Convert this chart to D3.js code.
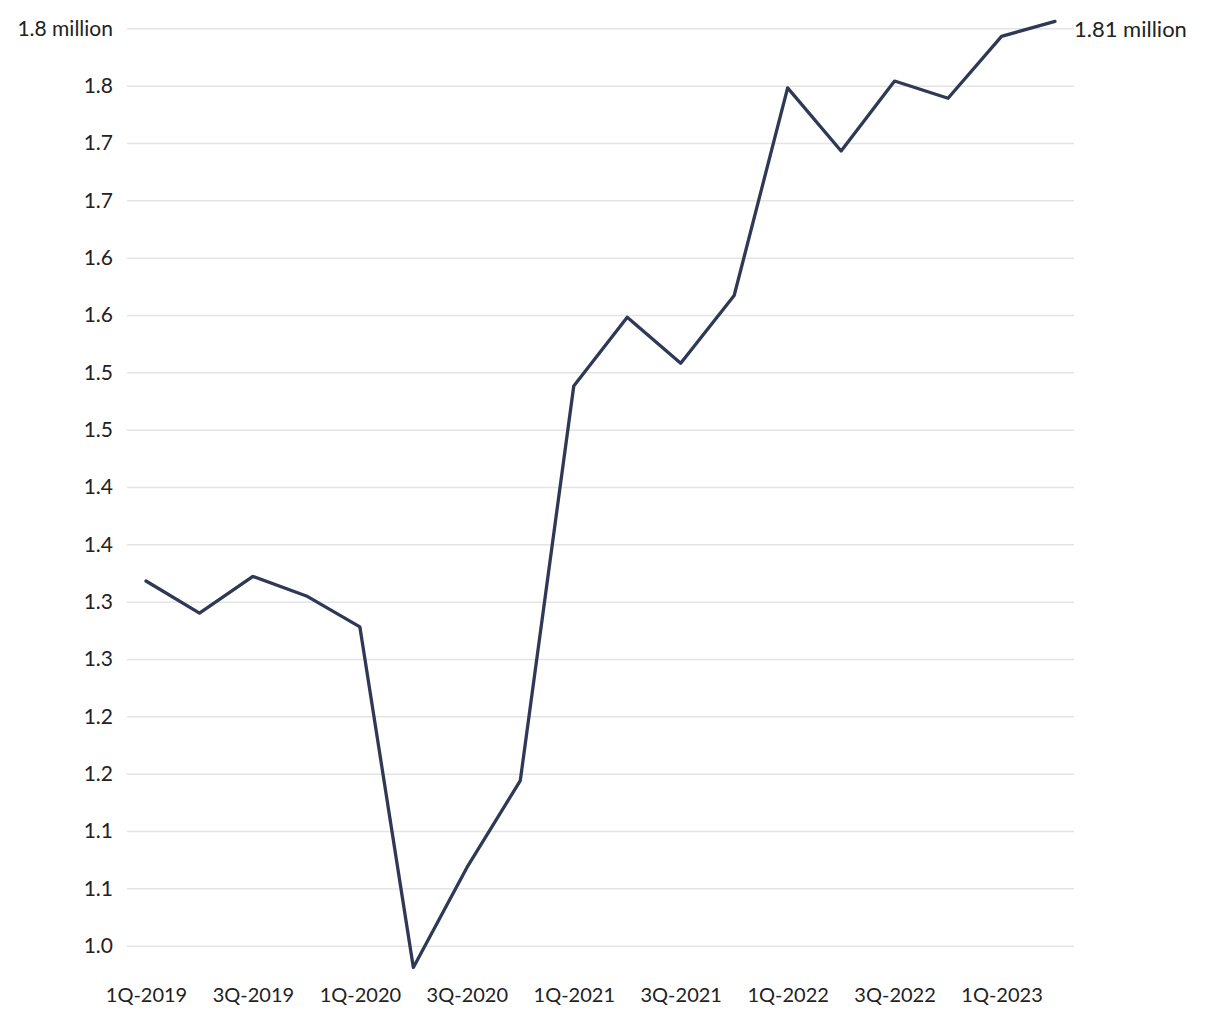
<!DOCTYPE html>
<html>
<head>
<meta charset="utf-8">
<script src="https://cdn.jsdelivr.net/npm/d3@7"></script>
<style>
    body { margin: 0; background: #fff; }
    svg text { font-family: Lato, "Open Sans", sans-serif; fill: #222; }
</style>
</head>
<body>
<div id="chart"></div>
<script>
var quarters = ['1Q-2019', '2Q-2019', '3Q-2019', '4Q-2019',
    '1Q-2020', '2Q-2020', '3Q-2020', '4Q-2020',
    '1Q-2021', '2Q-2021', '3Q-2021', '4Q-2021',
    '1Q-2022', '2Q-2022', '3Q-2022', '4Q-2022',
    '1Q-2023', '2Q-2023'],
    values = [1.318, 1.290, 1.322, 1.305,
        1.278, 0.981, 1.068, 1.144,
        1.488, 1.548, 1.508, 1.567,
        1.748, 1.693, 1.754, 1.739,
        1.793, 1.806],
    yTicks = [1.00, 1.05, 1.10, 1.15, 1.20, 1.25, 1.30, 1.35, 1.40,
        1.45, 1.50, 1.55, 1.60, 1.65, 1.70, 1.75, 1.80],
    yTickLabels = ['1.0', '1.1', '1.1', '1.2', '1.2', '1.3', '1.3', '1.4', '1.4',
        '1.5', '1.5', '1.6', '1.6', '1.7', '1.7', '1.8', '1.8 million'],
    xTickLabels = ['1Q-2019', '3Q-2019', '1Q-2020', '3Q-2020', '1Q-2021',
        '3Q-2021', '1Q-2022', '3Q-2022', '1Q-2023'],
    lastLabel = '1.81 million';

var width = 1220, height = 1020;

var svg = d3.select('#chart').append('svg')
    .attr('width', width)
    .attr('height', height);

// Scales
var x = d3.scalePoint()
    .domain(quarters)
    .range([146, 1055]);

var y = d3.scaleLinear()
    .domain([1.0, 1.8])
    .range([945.7, 28.3]);

// Grid + y labels
var yAxis = d3.axisLeft(y)
    .tickValues(yTicks)
    .tickSize(-(1074 - 127))
    .tickPadding(14)
    .tickFormat((d, i) => yTickLabels[i]);

svg.append('g')
    .attr('transform', 'translate(127,0)')
    .call(yAxis)
    .call(g => g.select('.domain').remove())
    .call(g => g.selectAll('.tick line').attr('stroke', '#e4e4e4').attr('stroke-width', 1.5))
    .call(g => g.selectAll('.tick text')
        .style('font-size', '21px')
        .style('font-family', 'Lato, "Open Sans", sans-serif')
        .attr('fill', '#222'));

// X labels
var xAxis = d3.axisBottom(x)
    .tickValues(xTickLabels)
    .tickSize(0)
    .tickPadding(0);

svg.append('g')
    .attr('transform', 'translate(0,988)')
    .call(xAxis)
    .call(g => g.select('.domain').remove())
    .call(g => g.selectAll('.tick text')
        .style('font-size', '20px')
        .style('font-family', 'Lato, "Open Sans", sans-serif')
        .attr('fill', '#222'));

// Line
var line = d3.line()
    .x((d, i) => x(quarters[i]))
    .y(d => y(d));

svg.append('path')
    .datum(values)
    .attr('fill', 'none')
    .attr('stroke', '#2f3855')
    .attr('stroke-width', 3.3)
    .attr('stroke-linejoin', 'round')
    .attr('stroke-linecap', 'round')
    .attr('d', line);

// End label
svg.append('text')
    .attr('x', x(quarters[quarters.length - 1]) + 19)
    .attr('y', y(values[values.length - 1]) + 8)
    .attr('dy', '0.35em')
    .style('font-size', '22px')
    .text(lastLabel);
</script>
</body>
</html>
